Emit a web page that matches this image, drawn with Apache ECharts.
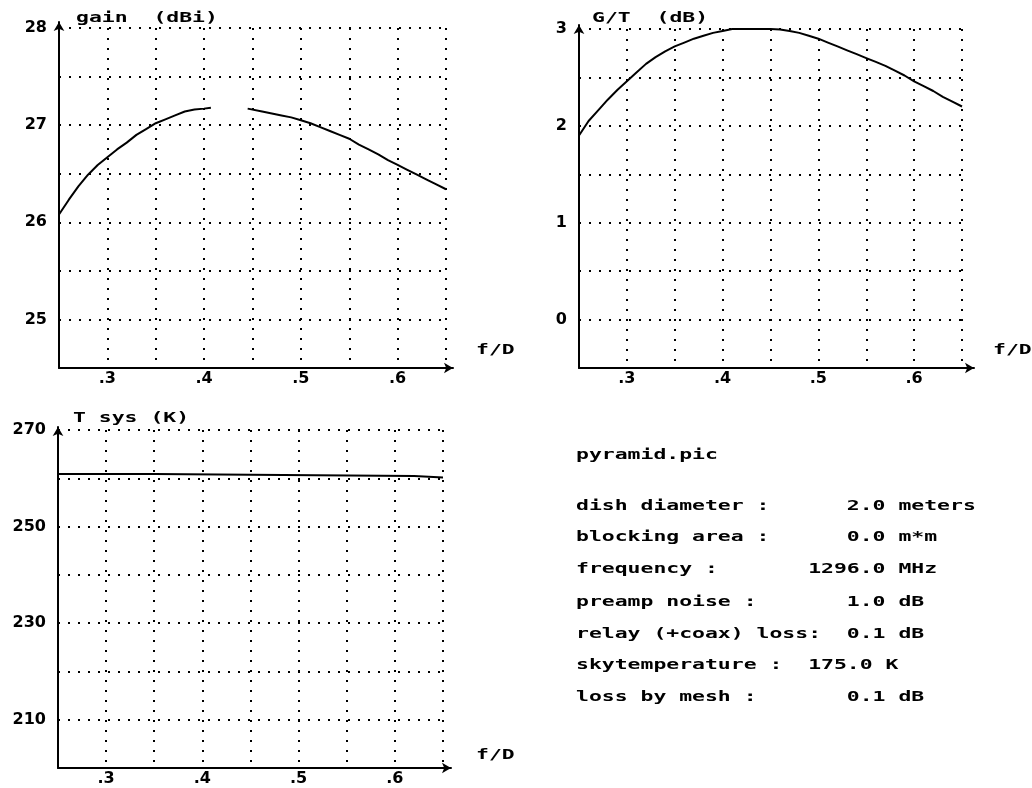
<!DOCTYPE html>
<html>
<head>
<meta charset="utf-8">
<script src="https://cdn.jsdelivr.net/npm/echarts@6.0.0/dist/echarts.min.js"></script>
<style>
html,body{margin:0;padding:0;background:#fff;}
#c{width:1032px;height:788px;}
</style>
</head>
<body>
<div id="c"></div>
<script>
// ---- data ----
const gainX = [0.25,0.26,0.27,0.28,0.29,0.30,0.31,0.32,0.33,0.34,0.35,0.36,0.37,0.38,0.39,0.40,0.407,0.425,0.445,0.46,0.47,0.48,0.49,0.50,0.51,0.52,0.53,0.54,0.55,0.56,0.57,0.58,0.59,0.60,0.61,0.62,0.63,0.64,0.65];
const gainY = [26.08,26.23,26.37,26.49,26.59,26.67,26.75,26.82,26.90,26.96,27.02,27.06,27.10,27.14,27.16,27.17,27.18,null,27.17,27.14,27.12,27.10,27.08,27.05,27.02,26.98,26.94,26.90,26.86,26.80,26.75,26.70,26.64,26.59,26.54,26.49,26.44,26.39,26.34];

const gtX = [0.25,0.26,0.27,0.28,0.29,0.30,0.31,0.32,0.33,0.34,0.35,0.36,0.37,0.38,0.39,0.40,0.41,0.42,0.43,0.44,0.45,0.46,0.47,0.48,0.49,0.50,0.51,0.52,0.53,0.54,0.55,0.56,0.57,0.58,0.59,0.60,0.61,0.62,0.63,0.64,0.65];
const gtY = [1.90,2.05,2.16,2.27,2.37,2.46,2.55,2.64,2.71,2.77,2.82,2.86,2.90,2.93,2.96,2.98,3.00,3.00,3.00,3.00,3.00,2.995,2.98,2.96,2.93,2.90,2.86,2.82,2.78,2.74,2.70,2.66,2.62,2.57,2.52,2.46,2.41,2.36,2.30,2.25,2.20];

const tsysX = [0.25,0.35,0.45,0.62,0.65];
const tsysY = [260.9,260.75,260.45,260.15,260.15];

const xTickLabels = {0.3:'.3',0.4:'.4',0.5:'.5',0.6:'.6'};
const gainTickLabels = [25,26,27,28];
const gtTickLabels = [0,1,2,3];
const tsysTickLabels = [210,230,250,270];

const titles = ['gain  (dBi)','G/T  (dB)','T sys (K)'];
const xName = 'f/D';

const infoLines = [
  'pyramid.pic',
  'dish diameter :      2.0 meters',
  'blocking area :      0.0 m*m',
  'frequency :       1296.0 MHz',
  'preamp noise :       1.0 dB',
  'relay (+coax) loss:  0.1 dB',
  'skytemperature :  175.0 K',
  'loss by mesh :       0.1 dB'
];

// ---- styling helpers ----
const BLACK = '#000';
const dotted = {color: BLACK, width: 2, type: [2, 8]};
const labelFont = {color: BLACK, fontFamily: 'DejaVu Sans', fontWeight: 'bold', fontSize: 16};

function pairs(xs, ys){ return xs.map((x,i)=>[x, ys[i]===null ? '-' : ys[i]]); }
function xFmt(v){
  const k = Math.round(v*100)/100;
  return xTickLabels[k] || '';
}
function listFmt(list){
  return function(v){
    const r = Math.round(v*1000)/1000;
    return list.indexOf(r) >= 0 ? String(r) : '';
  };
}
function mainX(gi){
  return {type:'value', gridIndex:gi, min:0.25, max:0.65, interval:0.05,
    axisLine:{show:false}, axisTick:{show:false},
    splitLine:{show:true, lineStyle:dotted},
    axisLabel:Object.assign({formatter:xFmt, margin:3, showMinLabel:true, showMaxLabel:true}, labelFont)};
}
function mainY(gi, min, max, interval, list){
  return {type:'value', gridIndex:gi, min:min, max:max, interval:interval,
    axisLine:{show:false}, axisTick:{show:false},
    splitLine:{show:true, lineStyle:dotted},
    axisLabel:Object.assign({formatter:listFmt(list), margin:12}, labelFont)};
}
function frameAxis(gi, pos){
  return {type:'value', gridIndex:gi, position:pos, min:0, max:1, z:5,
    axisLine:{show:true, onZero:false, symbol:['none','arrow'], symbolSize:[8,9],
      lineStyle:{color:BLACK, width:2}},
    axisTick:{show:false}, axisLabel:{show:false}, splitLine:{show:false}};
}
function lineSeries(xi, yi, data, extra){
  return Object.assign({type:'line', xAxisIndex:xi, yAxisIndex:yi, data:data,
    showSymbol:false, symbol:'none', connectNulls:false, smooth:false, z:4,
    lineStyle:{color:BLACK, width:2}, silent:true}, extra||{});
}
function pixelText(text, x, y){
  return {type:'text', x:x, y:y, scaleX:1.53, scaleY:1, z:10,
    style:{text:text, fill:BLACK, font:'bold 14px "DejaVu Sans Mono"', textVerticalAlign:'middle', verticalAlign:'middle', align:'left'}};
}

const graphics = [];
graphics.push(pixelText(titles[0], 76, 18));
graphics.push(pixelText(titles[1], 592, 18));
graphics.push(pixelText(titles[2], 73, 418));
graphics.push(pixelText(xName, 476, 350));
graphics.push(pixelText(xName, 993, 350));
graphics.push(pixelText(xName, 476, 755));
const infoY = [455, 506, 537, 569, 602, 634, 665, 697];
infoLines.forEach((t,i)=>graphics.push(pixelText(t, 576, infoY[i])));

const option = {
  animation:false,
  backgroundColor:'#fff',
  grid:[
    {left:59, right:586, top:28, bottom:420},   // 0 gain
    {left:59, right:579, top:22, bottom:420},   // 1 gain frame
    {left:579, right:70, top:29, bottom:420},   // 2 G/T
    {left:579, right:58, top:25, bottom:420},   // 3 G/T frame
    {left:58, right:589, top:430, bottom:20},   // 4 Tsys
    {left:58, right:581, top:427, bottom:20}    // 5 Tsys frame
  ],
  xAxis:[mainX(0), frameAxis(1,'bottom'), mainX(2), frameAxis(3,'bottom'), mainX(4), frameAxis(5,'bottom')],
  yAxis:[
    mainY(0, 24.5, 28, 0.5, gainTickLabels), frameAxis(1,'left'),
    mainY(2, -0.5, 3, 0.5, gtTickLabels), frameAxis(3,'left'),
    mainY(4, 200, 270, 10, tsysTickLabels), frameAxis(5,'left')
  ],
  series:[
    lineSeries(0, 0, pairs(gainX, gainY)),
    lineSeries(2, 2, pairs(gtX, gtY)),
    lineSeries(4, 4, pairs(tsysX, tsysY), {step:'end'})
  ],
  graphic:graphics
};

const chart = echarts.init(document.getElementById('c'), null, {renderer:'canvas'});
chart.setOption(option);
</script>
</body>
</html>
